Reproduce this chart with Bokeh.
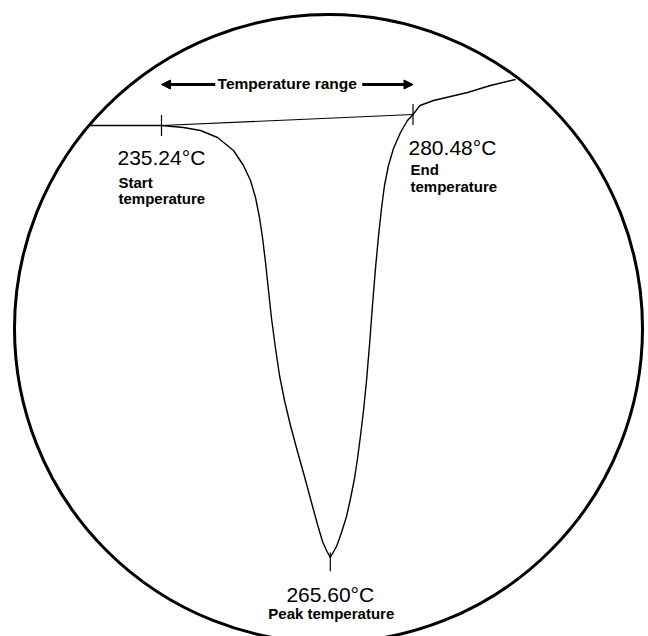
from bokeh.plotting import figure
from bokeh.models import Range1d, Arrow, NormalHead, ColumnDataSource
from bokeh.core.properties import value
from bokeh.embed import file_html
from bokeh.resources import INLINE

# DSC melting endotherm (temperature in °C, heat flow in arbitrary units)
temperature = [222.11, 227.87, 235.24, 239.20, 242.26, 245.31, 248.19, 249.99,
               251.25, 252.15, 252.87, 253.41, 253.95, 254.49, 255.03, 255.75,
               256.47, 257.37, 258.44, 259.70, 260.96, 262.22, 263.30, 264.20,
               264.92, 265.60, 266.72, 267.62, 268.52, 269.24, 269.96, 270.50,
               271.04, 271.58, 272.12, 272.65, 273.19, 273.73, 274.27, 274.81,
               275.35, 276.07, 276.97, 278.23, 279.49, 280.48, 281.74, 284.17,
               287.23, 290.28, 294.42, 298.92]
heat_flow = [0.00, 0.00, 0.00, -0.08, -0.20, -0.48, -1.00, -1.60,
             -2.20, -2.88, -3.68, -4.48, -5.48, -6.60, -7.72, -8.92,
             -10.00, -11.00, -12.00, -13.04, -14.04, -15.08, -15.96, -16.64,
             -17.00, -17.28, -16.84, -16.28, -15.64, -14.92, -14.12, -13.32,
             -12.40, -11.40, -10.20, -8.80, -7.20, -5.72, -4.44, -3.32,
             -2.40, -1.60, -0.92, -0.28, 0.20, 0.44, 0.80, 1.00,
             1.16, 1.32, 1.60, 1.84]

# characteristic temperatures of the transition
start_temp = 235.24
peak_temp = 265.60
end_temp = 280.48
start_flow = 0.00
peak_flow = -17.28
end_flow = 0.44

start_label = "235.24°C"
peak_label = "265.60°C"
end_label = "280.48°C"

W, H = 648, 636
x0, x1 = 206.28, 322.84
y0, y1 = -20.44, 5.00
dx = (x1 - x0) / W   # data units per screen pixel
dy = (y1 - y0) / H

p = figure(width=W, height=H, output_backend="svg", toolbar_location=None,
           x_range=Range1d(x0, x1), y_range=Range1d(y0, y1),
           x_axis_type=None, y_axis_type=None, min_border=0)
p.grid.visible = False
p.outline_line_color = None
p.background_fill_color = "white"
p.border_fill_color = "white"

# lens frame around the trace
cx = x0 + 328 * dx
cy = y1 - 328 * dy
p.ellipse(x=[cx], y=[cy], width=628, height=628, width_units="screen",
          height_units="screen", fill_color=None, line_color="black", line_width=3)

# DSC trace
p.line(temperature, heat_flow, line_color="black", line_width=1.4,
       line_join="round")

# interpolated baseline between onset and end
p.line([start_temp, end_temp], [start_flow, end_flow], line_color="black", line_width=1.1)

# tick marks at the characteristic temperatures
t = 0.42
p.segment(x0=[start_temp, end_temp, peak_temp],
          y0=[start_flow + t, end_flow + t, peak_flow + 0.2],
          x1=[start_temp, end_temp, peak_temp],
          y1=[start_flow - t, end_flow - t, peak_flow - 0.55],
          line_color="black", line_width=1.2)

# temperature range arrows and label
mid = (start_temp + end_temp) / 2
arrow_y = 1.64
for xs, xe in [(mid - 72 * dx, start_temp), (mid + 75 * dx, end_temp)]:
    p.add_layout(Arrow(end=NormalHead(size=9, fill_color="black", line_color="black"),
                       x_start=xs, y_start=arrow_y, x_end=xe, y_end=arrow_y,
                       line_color="black", line_width=3))

font = value("Liberation Sans")
p.text(x=[mid], y=[arrow_y], text=["Temperature range"], y_offset=-1,
       text_align="center", text_baseline="alphabetic", text_font=font,
       text_font_size="15.5px", text_font_style="bold", text_color="black")

labels = ColumnDataSource(dict(
    x=[start_temp, end_temp, peak_temp],
    y=[start_flow, end_flow, peak_flow],
    text=[start_label, end_label, peak_label],
    xo=[-44, -4.5, 0],
    yo=[32, 33, 37],
    align=["left", "left", "center"],
))
p.text(x="x", y="y", text="text", x_offset="xo", y_offset="yo",
       text_align="align", text_baseline="alphabetic", source=labels,
       text_font=font, text_font_size="21px", text_color="black")

names = ColumnDataSource(dict(
    x=[start_temp, start_temp, end_temp, end_temp, peak_temp],
    y=[start_flow, start_flow, end_flow, end_flow, peak_flow],
    text=["Start", "temperature", "End", "temperature", "Peak temperature"],
    xo=[-43, -43, -2.5, -2.5, 1],
    yo=[57, 73, 55, 72, 56],
    align=["left", "left", "left", "left", "center"],
))
p.text(x="x", y="y", text="text", x_offset="xo", y_offset="yo",
       text_align="align", text_baseline="alphabetic", source=names,
       text_font=font, text_font_size="15px", text_font_style="bold",
       text_color="black")

open("out.html", "w").write(file_html(p, INLINE))
